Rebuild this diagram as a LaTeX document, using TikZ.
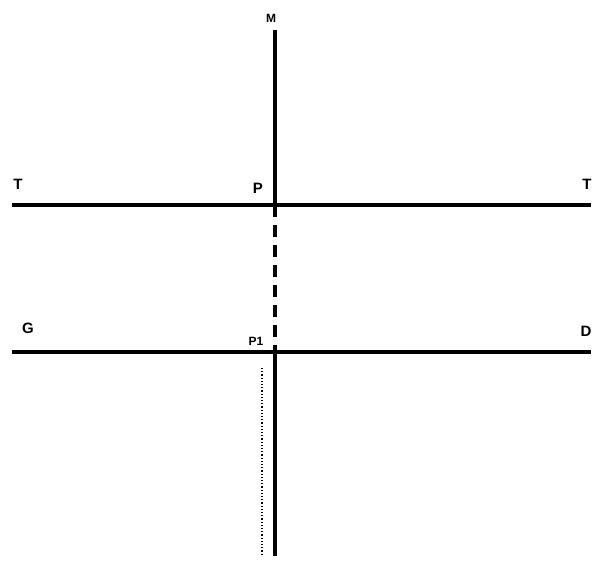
\documentclass[tikz,border=0pt]{standalone}
\usepackage{fontspec}
\setmainfont{Liberation Sans}
\begin{document}
\begin{tikzpicture}[x=1pt, y=-1pt, line width=4.5pt,
    lbl/.style={font=\fontsize{15}{15}\selectfont\bfseries, inner sep=0pt},
    sml/.style={font=\fontsize{12}{12}\selectfont\bfseries, inner sep=0pt}]
    \useasboundingbox (0, 0) rectangle (595, 564);

    % Line ends
    \coordinate (t1) at (12, 205); \coordinate (t2) at (591, 205);
    \coordinate (g1) at (12, 352); \coordinate (g2) at (591, 352);
    \coordinate (m) at (275, 30); \coordinate (s) at (275, 556);
    \coordinate (p) at (275, 205); \coordinate (p1) at (275, 352);
    \coordinate (d1) at (262, 368); \coordinate (d2) at (262, 556);

    % Labels
    \node[sml] (lm) at (271, 18) {M};
    \node[lbl] (lt1) at (18, 184) {T}; \node[lbl] (lt2) at (587, 184) {T};
    \node[lbl] (lp) at (258, 188) {P};
    \node[lbl] (lg) at (28, 328) {G}; \node[lbl] (ld) at (586, 331) {D};
    \node[sml] (lp1) at (256, 341) {P1};

    % Horizontal lines
    \draw (t1) -- (t2);
    \draw (g1) -- (g2);
    % Vertical line
    \draw (m) -- (p);
    \draw[dash pattern=on 12pt off 8pt] (p) -- (p1);
    \draw (p1) -- (s);
    \draw[line width=1.2pt, dotted] (d1) -- (d2);
  \end{tikzpicture}
\end{document}
